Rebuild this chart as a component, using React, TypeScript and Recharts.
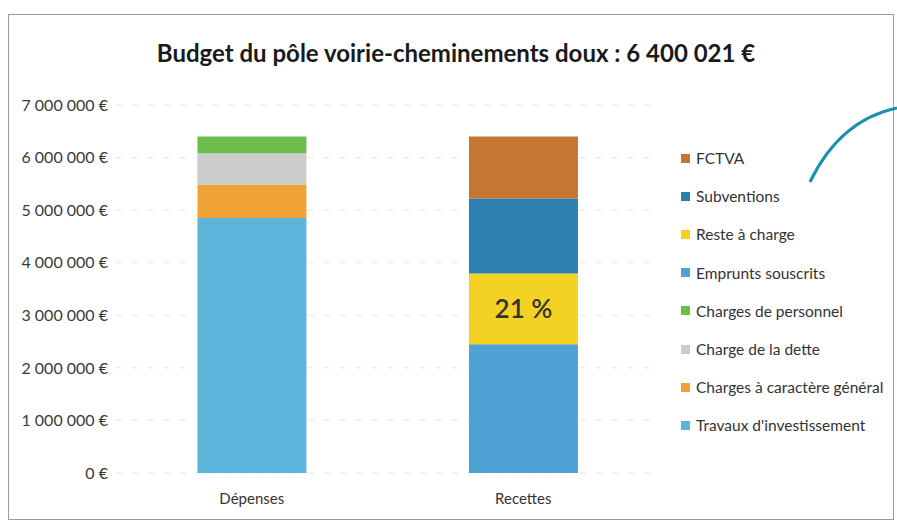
import React from 'react';
import { BarChart, Bar, XAxis, YAxis, CartesianGrid, Legend, LabelList } from 'recharts';

const categories = ['Dépenses', 'Recettes'];
const travauxInvestissement = [4850000, 0];
const chargesGenerales = [640000, 0];
const chargeDette = [590000, 0];
const chargesPersonnel = [320021, 0];
const empruntsSouscrits = [0, 2450000];
const resteACharge = [0, 1344021];
const subventions = [0, 1426000];
const fctva = [0, 1180000];
const yTicks = [0, 1000000, 2000000, 3000000, 4000000, 5000000, 6000000, 7000000];
const title = 'Budget du pôle voirie-cheminements doux : 6 400 021 €';

const series = [
  { key: 'travaux', name: "Travaux d'investissement", values: travauxInvestissement, color: '#5cb6dc' },
  { key: 'generales', name: 'Charges à caractère général', values: chargesGenerales, color: '#efa235' },
  { key: 'dette', name: 'Charge de la dette', values: chargeDette, color: '#c9cbcc' },
  { key: 'personnel', name: 'Charges de personnel', values: chargesPersonnel, color: '#6dbd4c' },
  { key: 'emprunts', name: 'Emprunts souscrits', values: empruntsSouscrits, color: '#4ea3d4' },
  { key: 'reste', name: 'Reste à charge', values: resteACharge, color: '#f4d223' },
  { key: 'subventions', name: 'Subventions', values: subventions, color: '#2c80b0' },
  { key: 'fctva', name: 'FCTVA', values: fctva, color: '#c47632' },
];

const data = categories.map((c, i) => {
  const row: any = { name: c };
  series.forEach((s) => {
    row[s.key] = s.values[i];
  });
  return row;
});

const recettesTotal = [empruntsSouscrits, resteACharge, subventions, fctva].reduce((a, arr) => a + arr[1], 0);

const fmtEuro = (v: number) => String(v).replace(/\B(?=(\d{3})+(?!\d))/g, '\u00a0') + '\u00a0€';

const font = "Lato, 'Open Sans', sans-serif";

const LegendContent = () => {
  const items = [...series].reverse();
  return (
    <div style={{ fontFamily: font, fontSize: 15.5, color: '#333' }}>
      {items.map((s) => (
        <div key={s.key} style={{ display: 'flex', alignItems: 'center', height: 38.2 }}>
          <span style={{ display: 'inline-block', width: 9, height: 9, background: s.color, marginRight: 6 }} />
          <span>{s.name}</span>
        </div>
      ))}
    </div>
  );
};

const PctLabel = (props: any) => {
  const { x, y, width, height, value } = props;
  if (!value) return null;
  const pct = Math.round((value / recettesTotal) * 100);
  return (
    <text x={x + width / 2} y={y + height / 2} dy={9} textAnchor="middle" fill="#333" fontSize={26} fontFamily={font} fontWeight={600}>
      {pct + ' %'}
    </text>
  );
};

export default function App() {
  return (
    <div style={{ position: 'absolute', left: 0, top: 0, width: 897, height: 524, background: '#fff', overflow: 'hidden' }}>
      <div style={{ position: 'absolute', left: 8, top: 14, width: 886, height: 506, border: '1px solid #9a9a9a', boxSizing: 'border-box' }} />
      <svg style={{ position: 'absolute', left: 0, top: 0 }} width={897} height={524}>
        <path d="M 810 182 Q 840 120 897 108" stroke="#1b8fb0" strokeWidth={3} fill="none" />
      </svg>
      <div
        style={{
          position: 'absolute',
          left: 0,
          width: 912,
          top: 38,
          textAlign: 'center',
          fontFamily: font,
          fontWeight: 700,
          fontSize: 24,
          color: '#1a1a1a',
          whiteSpace: 'nowrap',
        }}
      >
        {title}
      </div>
      <div style={{ position: 'absolute', left: 0, top: 0 }}>
        <BarChart
          width={897}
          height={524}
          data={data}
          margin={{ top: 105, right: 238, bottom: 21, left: 0 }}
          barCategoryGap="30%"
        >
          <CartesianGrid vertical={false} stroke="#e6e6e6" strokeDasharray="6 10" />
          <XAxis
            dataKey="name"
            axisLine={false}
            tickLine={false}
            height={30}
            tickMargin={14}
            tick={{ fontFamily: font, fontSize: 15, fill: '#333' }}
          />
          <YAxis
            width={116}
            domain={[0, 7000000]}
            ticks={yTicks}
            axisLine={false}
            tickLine={false}
            tickSize={0}
            tickMargin={8}
            tickFormatter={fmtEuro}
            tick={{ fontFamily: font, fontSize: 16, fill: '#3a3a3a' }}
          />
          <Legend
            layout="vertical"
            verticalAlign="middle"
            align="center"
            content={<LegendContent />}
            wrapperStyle={{ left: 681, top: 139, width: 216 }}
          />
          {series.map((s) => (
            <Bar key={s.key} dataKey={s.key} name={s.name} stackId="a" fill={s.color} isAnimationActive={false}>
              {s.key === 'reste' ? <LabelList dataKey="reste" content={<PctLabel />} /> : null}
            </Bar>
          ))}
        </BarChart>
      </div>
    </div>
  );
}
